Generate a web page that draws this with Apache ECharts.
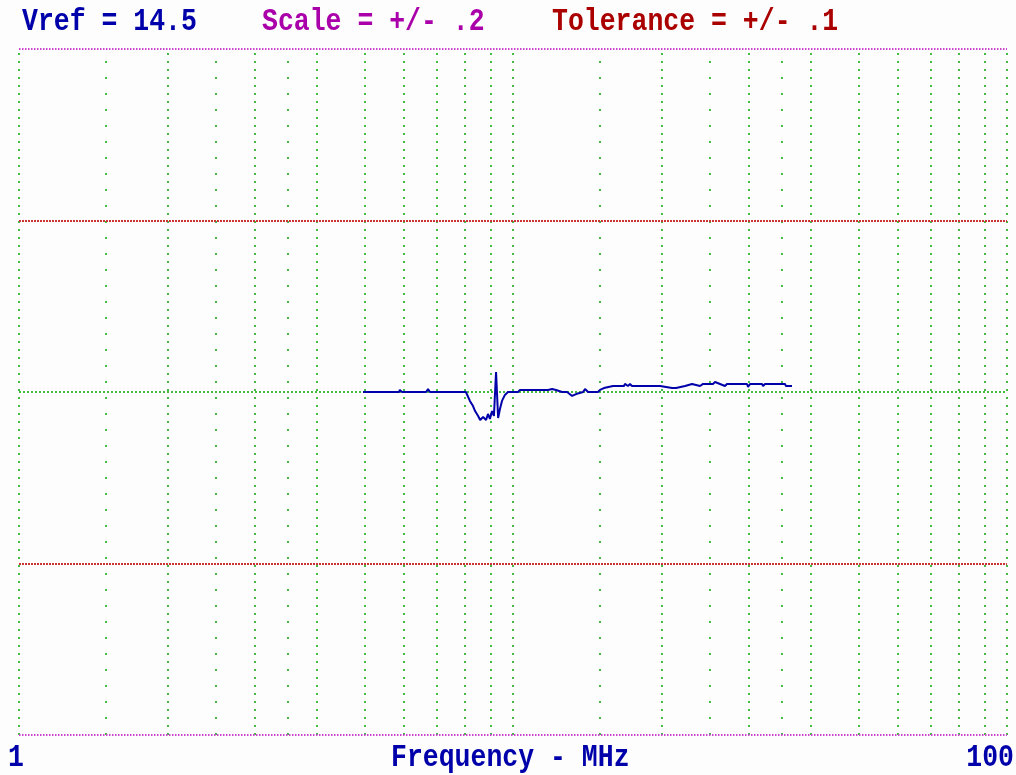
<!DOCTYPE html>
<html>
<head>
<meta charset="utf-8">
<title>Frequency response</title>
<script src="https://cdn.jsdelivr.net/npm/echarts@6/dist/echarts.min.js"></script>
<style>
  html, body { margin: 0; padding: 0; background: #fdfdfd; }
  #chart { width: 1016px; height: 775px; }
</style>
</head>
<body>
<div id="chart"></div>
<script>
// Reference level and display window
const vref = 14.5;
const scale = 0.2;
const tolerance = 0.1;

// Frequency axis (MHz, log scale)
const freqMin = 1;
const freqMax = 100;
const majorFreqs = [1, 2, 3, 4, 5, 6, 7, 8, 9, 10, 20, 30, 40, 50, 60, 70, 80, 90, 100];
const halfFreqs = [1.5, 2.5, 3.5, 15, 25, 35];

// Measured trace
const freqMHz = [
  4.97, 5.88, 5.90, 5.96, 6.67, 6.73, 6.79, 8.03, 8.18, 8.30,
  8.38, 8.50, 8.58, 8.70, 8.82, 8.90, 8.98, 9.07, 9.15, 9.24,
  9.33, 9.41, 9.50, 9.63, 9.77, 10.24, 10.33, 11.77, 12.00, 12.22,
  12.57, 12.87, 13.17, 13.42, 13.86, 13.99, 14.19, 14.86, 15.00, 15.28,
  15.94, 16.78, 16.85, 17.09, 17.25, 17.41, 19.85, 20.99, 21.09, 21.38,
  22.30, 23.04, 23.91, 24.25, 25.40, 25.64, 26.86, 27.11, 29.77, 29.91,
  30.19, 31.92, 32.07, 32.37, 35.53, 35.69, 36.71
];
const volts = [
  14.5000, 14.5000, 14.5012, 14.5000, 14.5000, 14.5017, 14.5000, 14.5000, 14.4948, 14.4918,
  14.4889, 14.4860, 14.4837, 14.4854, 14.4837, 14.4872, 14.4843, 14.4889, 14.4860, 14.5117,
  14.4848, 14.4901, 14.4948, 14.4983, 14.5000, 14.5000, 14.5012, 14.5012, 14.5017, 14.5012,
  14.5000, 14.5000, 14.4977, 14.4988, 14.5000, 14.5017, 14.5000, 14.5000, 14.5012, 14.5023,
  14.5035, 14.5035, 14.5047, 14.5035, 14.5047, 14.5035, 14.5035, 14.5023, 14.5012, 14.5023,
  14.5035, 14.5047, 14.5035, 14.5047, 14.5047, 14.5058, 14.5035, 14.5047, 14.5047, 14.5029,
  14.5047, 14.5047, 14.5035, 14.5047, 14.5047, 14.5035, 14.5035
];

// Header / footer captions
const headerTexts = ['Vref = 14.5', 'Scale = +/- .2', 'Tolerance = +/- .1'];
const footerLeft = '1';
const footerCenter = 'Frequency - MHz';
const footerRight = '100';

const BLUE = '#0000aa';
const MAGENTA = '#aa00aa';
const RED = '#aa0000';
const GREEN = '#44bb44';
const FONT = 'Liberation Mono';

const chart = echarts.init(document.getElementById('chart'), null, { renderer: 'canvas' });

const vLine = (f, dash) => ({
  xAxis: f,
  lineStyle: { color: GREEN, width: 2, type: dash }
});
const hLine = (v, color, width, dash) => ({
  yAxis: v,
  lineStyle: { color: color, width: width, type: dash }
});

const gridLines = []
  .concat(majorFreqs.map(f => vLine(f, [2, 6])))
  .concat(halfFreqs.map(f => vLine(f, [2, 14])))
  .concat([
    hLine(vref, GREEN, 2, [2, 2]),
    hLine(vref + tolerance, '#cc3333', 2, [2, 1]),
    hLine(vref - tolerance, '#cc3333', 2, [2, 1]),
    hLine(vref + scale, '#cc44cc', 2, [1.5, 1.5]),
    hLine(vref - scale, '#cc44cc', 2, [1.5, 1.5])
  ]);

const textEl = (str, x, y, color, align) => ({
  type: 'text',
  x: x,
  y: y,
  scaleY: 1.18,
  style: {
    text: str,
    fill: color,
    font: 'bold 26.5px "' + FONT + '"',
    align: align || 'left',
    verticalAlign: 'middle'
  }
});

chart.setOption({
  backgroundColor: '#fdfdfd',
  animation: false,
  grid: { left: 19, right: 9, top: 49, bottom: 40 },
  xAxis: {
    type: 'log',
    logBase: 10,
    min: freqMin,
    max: freqMax,
    axisLine: { show: false },
    axisTick: { show: false },
    axisLabel: { show: false },
    splitLine: { show: false }
  },
  yAxis: {
    type: 'value',
    min: vref - scale,
    max: vref + scale,
    axisLine: { show: false },
    axisTick: { show: false },
    axisLabel: { show: false },
    splitLine: { show: false }
  },
  series: [
    {
      type: 'line',
      data: [],
      silent: true,
      markLine: {
        silent: true,
        symbol: 'none',
        label: { show: false },
        data: gridLines
      }
    },
    {
      type: 'line',
      data: freqMHz.map((f, i) => [f, volts[i]]),
      showSymbol: false,
      silent: true,
      lineStyle: { color: BLUE, width: 2 },
      z: 5
    }
  ],
  graphic: [
    textEl(headerTexts[0], 22, 22, BLUE),
    textEl(headerTexts[1], 262, 22, MAGENTA),
    textEl(headerTexts[2], 552, 22, RED),
    textEl(footerLeft, 8, 758, BLUE),
    textEl(footerCenter, 391, 758, BLUE),
    textEl(footerRight, 1014, 758, BLUE, 'right')
  ]
});
</script>
</body>
</html>
